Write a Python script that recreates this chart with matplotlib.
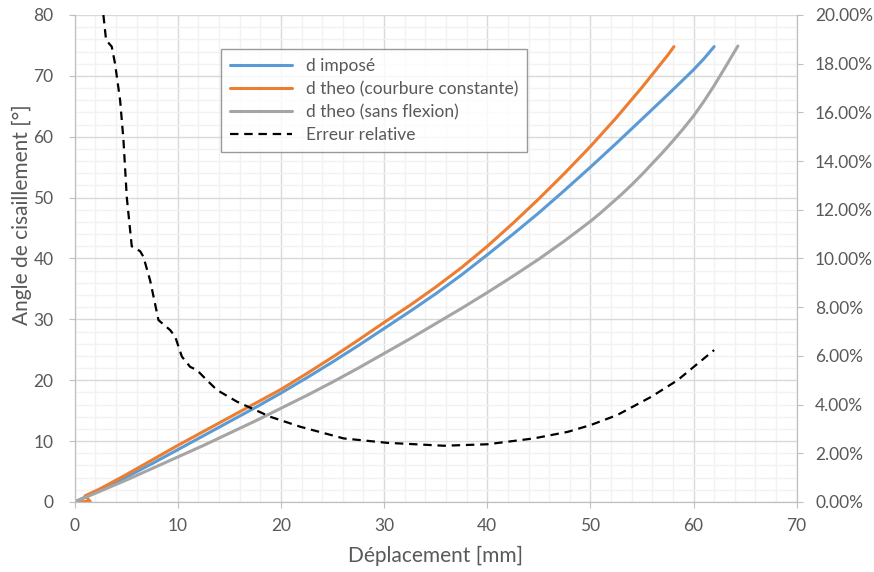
import numpy as np
import matplotlib.pyplot as plt
from matplotlib.ticker import MultipleLocator, FuncFormatter

plt.rcParams['font.family'] = ['Lato', 'DejaVu Sans']

# d impose
x_imp = [0, 2.5, 5, 7.5, 10, 12.5, 15, 17.5, 20, 22.5, 25, 27.5, 30, 32.5, 35, 37.5, 40,
         42.5, 45, 47.5, 50, 52.5, 55, 57.5, 60, 61, 62]
y_imp = [0, 2.0, 4.1, 6.3, 8.6, 10.9, 13.2, 15.5, 17.9, 20.4, 23.0, 25.7, 28.5, 31.3, 34.2, 37.3, 40.6,
         44.0, 47.5, 51.2, 55.0, 58.9, 62.9, 66.9, 71.0, 72.8, 74.8]

# d theo (courbure constante)
x_cc = [0, 1.5, 1.0, 2.5, 5, 7.5, 10, 12.5, 15, 17.5, 20, 22.5, 25, 27.5, 30, 32.5, 35, 37.5, 40,
        42.5, 45, 47.5, 50, 52.5, 55, 57.5, 58.1]
y_cc = [0, 0.1, 1.0, 2.2, 4.5, 6.9, 9.3, 11.6, 13.9, 16.2, 18.5, 21.1, 23.8, 26.6, 29.5, 32.3, 35.3, 38.5, 42.0,
        45.8, 49.8, 54.0, 58.4, 63.1, 68.1, 73.4, 74.8]

# d theo (sans flexion)
x_sf = [0, 2.5, 5, 7.5, 10, 12.5, 15, 17.5, 20, 22.5, 25, 27.5, 30, 32.5, 35, 37.5, 40,
        42.5, 45, 47.5, 50, 51, 52, 53, 54, 55, 56, 57, 58, 59, 60, 61, 62, 63, 64.3]
y_sf = [0, 1.8, 3.6, 5.5, 7.4, 9.3, 11.3, 13.3, 15.4, 17.5, 19.7, 22.0, 24.4, 26.8, 29.3, 31.8, 34.4,
        37.1, 39.9, 42.9, 46.1, 47.5, 49.0, 50.5, 52.1, 53.8, 55.6, 57.4, 59.3, 61.3, 63.4, 65.8, 68.4, 71.2, 74.9]

# erreur relative (%)
x_err = [2.78, 3.04, 3.59, 3.91, 4.40, 4.72, 5.05, 5.53, 6.34, 6.66, 7.31, 8.12, 9.25, 9.74,
         10.39, 11.19, 11.84, 12.82, 13.79, 15.73, 18.96, 21.87, 26.08, 30.29, 35.79, 40.0,
         44.5, 47.8, 50.03, 52.6, 55.9, 58.45, 62.0]
err = [20.0, 18.97, 18.7, 18.0, 16.5, 14.9, 12.5, 10.5, 10.3, 10.07, 9.1, 7.47, 7.06, 6.79,
       5.97, 5.55, 5.42, 5.0, 4.6, 4.12, 3.5, 3.09, 2.61, 2.43, 2.31, 2.37,
       2.61, 2.88, 3.16, 3.57, 4.32, 5.0, 6.24]

txt = '#595959'
fig = plt.figure(figsize=(8.74, 5.72), dpi=100)
ax = fig.add_axes([0.0855, 0.1224, 0.826, 0.8514])
ax2 = ax.twinx()

l1, = ax.plot(x_imp, y_imp, color='#5B9BD5', lw=2.2, label='d imposé', solid_capstyle='round')
l2, = ax.plot(x_cc, y_cc, color='#ED7D31', lw=2.2, label='d theo (courbure constante)', solid_capstyle='round')
l3, = ax.plot(x_sf, y_sf, color='#A5A5A5', lw=2.2, label='d theo (sans flexion)', solid_capstyle='round')
l4, = ax2.plot(x_err, err, color='black', lw=1.6, ls=(0, (3.8, 2.6)), label='Erreur relative')

ax.set_xlim(0, 70)
ax.set_ylim(0, 80)
ax2.set_ylim(0, 20)
ax.xaxis.set_major_locator(MultipleLocator(10))
ax.xaxis.set_minor_locator(MultipleLocator(2))
ax.yaxis.set_major_locator(MultipleLocator(10))
ax.yaxis.set_minor_locator(MultipleLocator(2))
ax2.yaxis.set_major_locator(MultipleLocator(2))
ax2.yaxis.set_major_formatter(FuncFormatter(lambda v, p: '{:.2f}%'.format(v)))

ax.grid(which='major', color='#D9D9D9', lw=1.0)
ax.grid(which='minor', color='#F2F2F2', lw=1.0)
ax.set_axisbelow(True)

for a in (ax, ax2):
    a.spines['top'].set_visible(False)
    for s in ('left', 'right', 'bottom'):
        a.spines[s].set_color('#BFBFBF')
    a.tick_params(which='major', colors='#BFBFBF', labelcolor=txt, labelsize=12.5, length=4.3)
    a.tick_params(which='minor', length=0)
ax.tick_params(axis='y', pad=11)
ax.tick_params(axis='x', pad=7)
ax2.tick_params(axis='y', pad=9)

ax.set_xlabel('Déplacement [mm]', color=txt, fontsize=15)
ax.set_ylabel('Angle de cisaillement [°]', color=txt, fontsize=15)
ax.xaxis.set_label_coords(0.5, -0.09)
ax.yaxis.set_label_coords(-0.059, 0.589)

leg = ax2.legend(handles=[l1, l2, l3, l4], loc='upper left', bbox_to_anchor=(0.2026, 0.9296),
                 borderaxespad=0, fontsize=12.5, frameon=True, fancybox=False,
                 handlelength=3.6, labelcolor=txt, borderpad=0.5, labelspacing=0.4)
leg.get_frame().set_edgecolor('#808080')
leg.get_frame().set_linewidth(1.0)

fig.savefig('out.png', dpi=100)
